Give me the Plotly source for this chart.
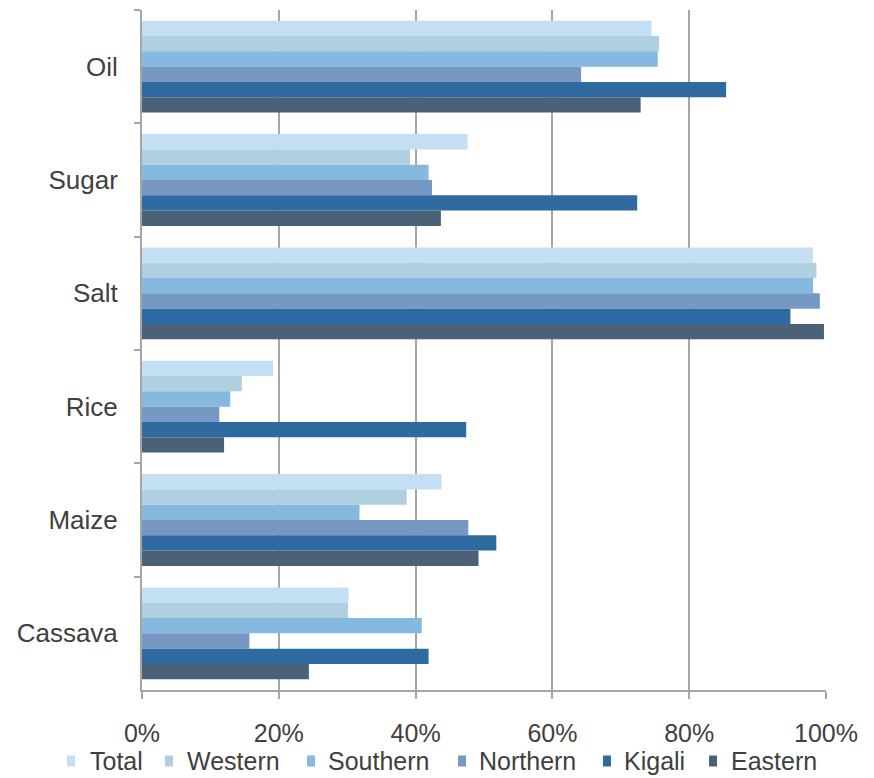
import plotly.graph_objects as go

categories = ["Oil", "Sugar", "Salt", "Rice", "Maize", "Cassava"]
series_names = ["Total", "Western", "Southern", "Northern", "Kigali", "Eastern"]

total = [74.5, 47.6, 98.1, 19.2, 43.8, 30.2]
western = [75.6, 39.2, 98.6, 14.6, 38.7, 30.1]
southern = [75.4, 41.9, 98.1, 12.9, 31.8, 40.9]
northern = [64.2, 42.4, 99.1, 11.3, 47.7, 15.7]
kigali = [85.4, 72.4, 94.8, 47.4, 51.8, 41.9]
eastern = [72.9, 43.7, 99.7, 12.0, 49.2, 24.4]

series_values = [total, western, southern, northern, kigali, eastern]
colors = ["#c4def4", "#b0cfe0", "#86b9e0", "#7898c4", "#2f6aa0", "#4a6178"]

tick_vals = [0, 20, 40, 60, 80, 100]
tick_text = ["0%", "20%", "40%", "60%", "80%", "100%"]

W, H = 874, 778
ML, MR, MT, MB = 142, 48, 10, 88
PW, PH = W - ML - MR, H - MT - MB

fig = go.Figure()
for name, vals, col in zip(series_names, series_values, colors):
    fig.add_trace(go.Bar(
        name=name, y=categories, x=vals, orientation="h",
        marker=dict(color=col, line=dict(width=0)),
    ))

# manual legend (layout positions in pixels)
legend_sq_x = [67, 165, 307, 458, 603, 709]
legend_tx_x = [88, 185, 326, 477, 622, 729]
legend_y = 761
shapes = []
annots = []
for name, col, sx, tx in zip(series_names, colors, legend_sq_x, legend_tx_x):
    shapes.append(dict(type="rect", xref="paper", yref="paper",
                       x0=(sx - ML) / PW, x1=(sx + 8 - ML) / PW,
                       y0=(MT + PH - (legend_y + 5.5)) / PH, y1=(MT + PH - (legend_y - 5.5)) / PH,
                       fillcolor=col, line=dict(width=0)))
    annots.append(dict(text=name, xref="paper", yref="paper",
                       x=(tx - ML) / PW, y=(MT + PH - legend_y) / PH,
                       xanchor="left", yanchor="middle", showarrow=False,
                       font=dict(size=25, color="#404040")))

grey = "#a6a6a6"
fig.update_layout(
    width=W, height=H,
    margin=dict(l=ML, r=MR, t=MT, b=MB),
    barmode="group", bargap=0.19, bargroupgap=0,
    plot_bgcolor="white", paper_bgcolor="white",
    font=dict(family="Liberation Sans, Arial, sans-serif", size=25, color="#404040"),
    showlegend=False,
    shapes=shapes, annotations=annots,
    xaxis=dict(range=[0, 100], tickvals=tick_vals, ticktext=tick_text,
               showgrid=True, gridcolor=grey, gridwidth=2,
               showline=True, linecolor=grey, linewidth=2,
               ticks="outside", ticklen=7, tickcolor=grey, tickwidth=1.5,
               ticklabelstandoff=13, zeroline=False, fixedrange=True,
               tickfont=dict(size=25, color="#404040")),
    yaxis=dict(autorange="reversed", categoryorder="array", categoryarray=categories,
               showline=True, linecolor=grey, linewidth=2,
               ticks="outside", ticklen=6, tickcolor=grey, tickwidth=1.5,
               tickson="boundaries", ticklabelstandoff=17, showgrid=False,
               tickfont=dict(size=26, color="#404040")),
)

fig.write_html("out.html")
